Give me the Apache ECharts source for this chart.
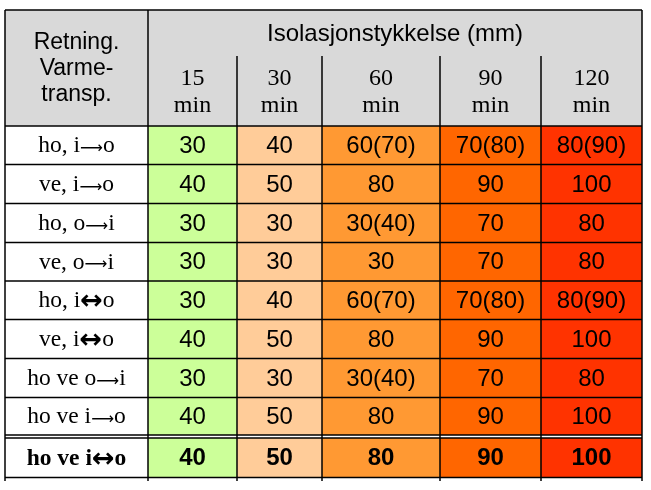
<!DOCTYPE html>
<html><head><meta charset="utf-8">
<script src="https://cdn.jsdelivr.net/npm/echarts@6/dist/echarts.min.js"></script>
<style>html,body{margin:0;padding:0;background:#fff}#c{width:651px;height:490px}</style>
</head><body><div id="c"></div>
<script>
// ---- data ----
const headerLeft = "Retning.\nVarme-\ntransp.";
const headerTop = "Isolasjonstykkelse (mm)";
const durations = ["15\nmin", "30\nmin", "60\nmin", "90\nmin", "120\nmin"];
const directions = ["ho, i→o", "ve, i→o", "ho, o→i", "ve, o→i", "ho, i↔o", "ve, i↔o", "ho ve o→i", "ho ve i→o", "ho ve i↔o"];
const min15 = ["30", "40", "30", "30", "30", "40", "30", "40", "40"];
const min30 = ["40", "50", "30", "30", "40", "50", "30", "50", "50"];
const min60 = ["60(70)", "80", "30(40)", "30", "60(70)", "80", "30(40)", "80", "80"];
const min90 = ["70(80)", "90", "70", "70", "70(80)", "90", "70", "90", "90"];
const min120 = ["80(90)", "100", "80", "80", "80(90)", "100", "80", "100", "100"];
const valueColumns = [min15, min30, min60, min90, min120];

// ---- layout / style ----
const colEdges = [0, 143, 232, 317, 435, 536, 637];
const headTopEdge = 46;
const rowEdges = [[116, 154.5], [154.5, 193.5], [193.5, 232.5], [232.5, 271], [271, 309.5], [309.5, 348.5], [348.5, 387.5], [387.5, 425], [428, 467.5]];
const colFills = ['#CCFF99', '#FFCC99', '#FF9933', '#FF6600', '#FF3300'];
const headFill = '#D9D9D9';
const SANS = '"Liberation Sans", Arial, sans-serif';
const SERIF = '"Liberation Serif", "Times New Roman", serif';

// build cell list
const cells = [];
cells.push({x0: colEdges[0], x1: colEdges[1], y0: 0, y1: 116, text: headerLeft, fill: headFill, font: SANS, fs: 23, lh: 26});
cells.push({x0: colEdges[1], x1: colEdges[6], y0: 0, y1: headTopEdge, text: headerTop, fill: headFill, font: SANS, fs: 24, lh: 26});
durations.forEach((d, i) => cells.push({x0: colEdges[i + 1], x1: colEdges[i + 2], y0: headTopEdge, y1: 116, text: d, fill: headFill, font: SERIF, fs: 24, lh: 27}));
directions.forEach((d, r) => {
  const bold = r === directions.length - 1;
  cells.push({x0: colEdges[0], x1: colEdges[1], y0: rowEdges[r][0], y1: rowEdges[r][1], text: d, fill: '#FFFFFF', font: SERIF, fs: 23.5, bold, arrows: true});
  valueColumns.forEach((col, c) => {
    cells.push({x0: colEdges[c + 1], x1: colEdges[c + 2], y0: rowEdges[r][0], y1: rowEdges[r][1], text: col[r], fill: colFills[c], font: SANS, fs: 24, bold});
  });
});

function cellRender(params, api) {
  const cdef = cells[params.dataIndex];
  const p0 = api.coord([cdef.x0, cdef.y0]);
  const p1 = api.coord([cdef.x1, cdef.y1]);
  let txt = cdef.text;
  let rich;
  if (cdef.arrows) {
    txt = txt.replace(/→/g, '{a|⟶}').replace(/↔/g, '{b|↔}');
    rich = {
      a: {fontFamily: '"DejaVu Sans"', fontSize: 16, fill: '#000', padding: [5, 0, 0, 0]},
      b: {fontFamily: '"DejaVu Sans"', fontSize: 27, fontWeight: 'bold', fill: '#000', padding: [2, 0, 0, 0]}
    };
  }
  const style = {text: txt, x: (p0[0] + p1[0]) / 2, y: (p0[1] + p1[1]) / 2 + 1, align: 'center', verticalAlign: 'middle',
    fontSize: cdef.fs, fontFamily: cdef.font, fontWeight: cdef.bold ? 'bold' : 'normal', fill: '#000', lineHeight: cdef.lh || cdef.fs + 3};
  if (rich) style.rich = rich;
  return {
    type: 'group',
    children: [
      {type: 'rect', shape: {x: p0[0], y: p0[1], width: p1[0] - p0[0], height: p1[1] - p0[1]}, style: {fill: cdef.fill}},
      {type: 'text', style: style}
    ]
  };
}

function linesRender(params, api) {
  const L = [];
  const lw = 1.5;
  function seg(xa, ya, xb, yb) {
    const a = api.coord([xa, ya]), b = api.coord([xb, yb]);
    L.push({type: 'line', shape: {x1: a[0], y1: a[1], x2: b[0], y2: b[1]}, style: {stroke: '#000', lineWidth: lw}});
  }
  const bottom = rowEdges[rowEdges.length - 1][1];
  const vEnd = bottom + 3.5;
  seg(colEdges[0], 0, colEdges[0], vEnd);
  seg(colEdges[6], 0, colEdges[6], vEnd);
  seg(colEdges[1], 0, colEdges[1], vEnd);
  for (let i = 2; i <= 5; i++) seg(colEdges[i], headTopEdge, colEdges[i], vEnd);
  seg(colEdges[0], 0, colEdges[6], 0);
  rowEdges.forEach(e => { seg(colEdges[0], e[0], colEdges[6], e[0]); });
  seg(colEdges[0], rowEdges[7][1], colEdges[6], rowEdges[7][1]);
  seg(colEdges[0], bottom, colEdges[6], bottom);
  return {type: 'group', children: L};
}

const chart = echarts.init(document.getElementById('c'));
chart.setOption({
  animation: false,
  grid: {left: 5, top: 10, width: 637, height: 472},
  xAxis: {type: 'value', min: 0, max: 637, show: false},
  yAxis: {type: 'value', min: 0, max: 472, inverse: true, show: false},
  series: [
    {type: 'custom', renderItem: cellRender, data: cells.map(c => [(c.x0 + c.x1) / 2, (c.y0 + c.y1) / 2]), encode: {x: 0, y: 1}, silent: true, clip: false},
    {type: 'custom', renderItem: linesRender, data: [[0, 0]], encode: {x: 0, y: 1}, silent: true, clip: false, z: 5}
  ]
});
</script></body></html>
